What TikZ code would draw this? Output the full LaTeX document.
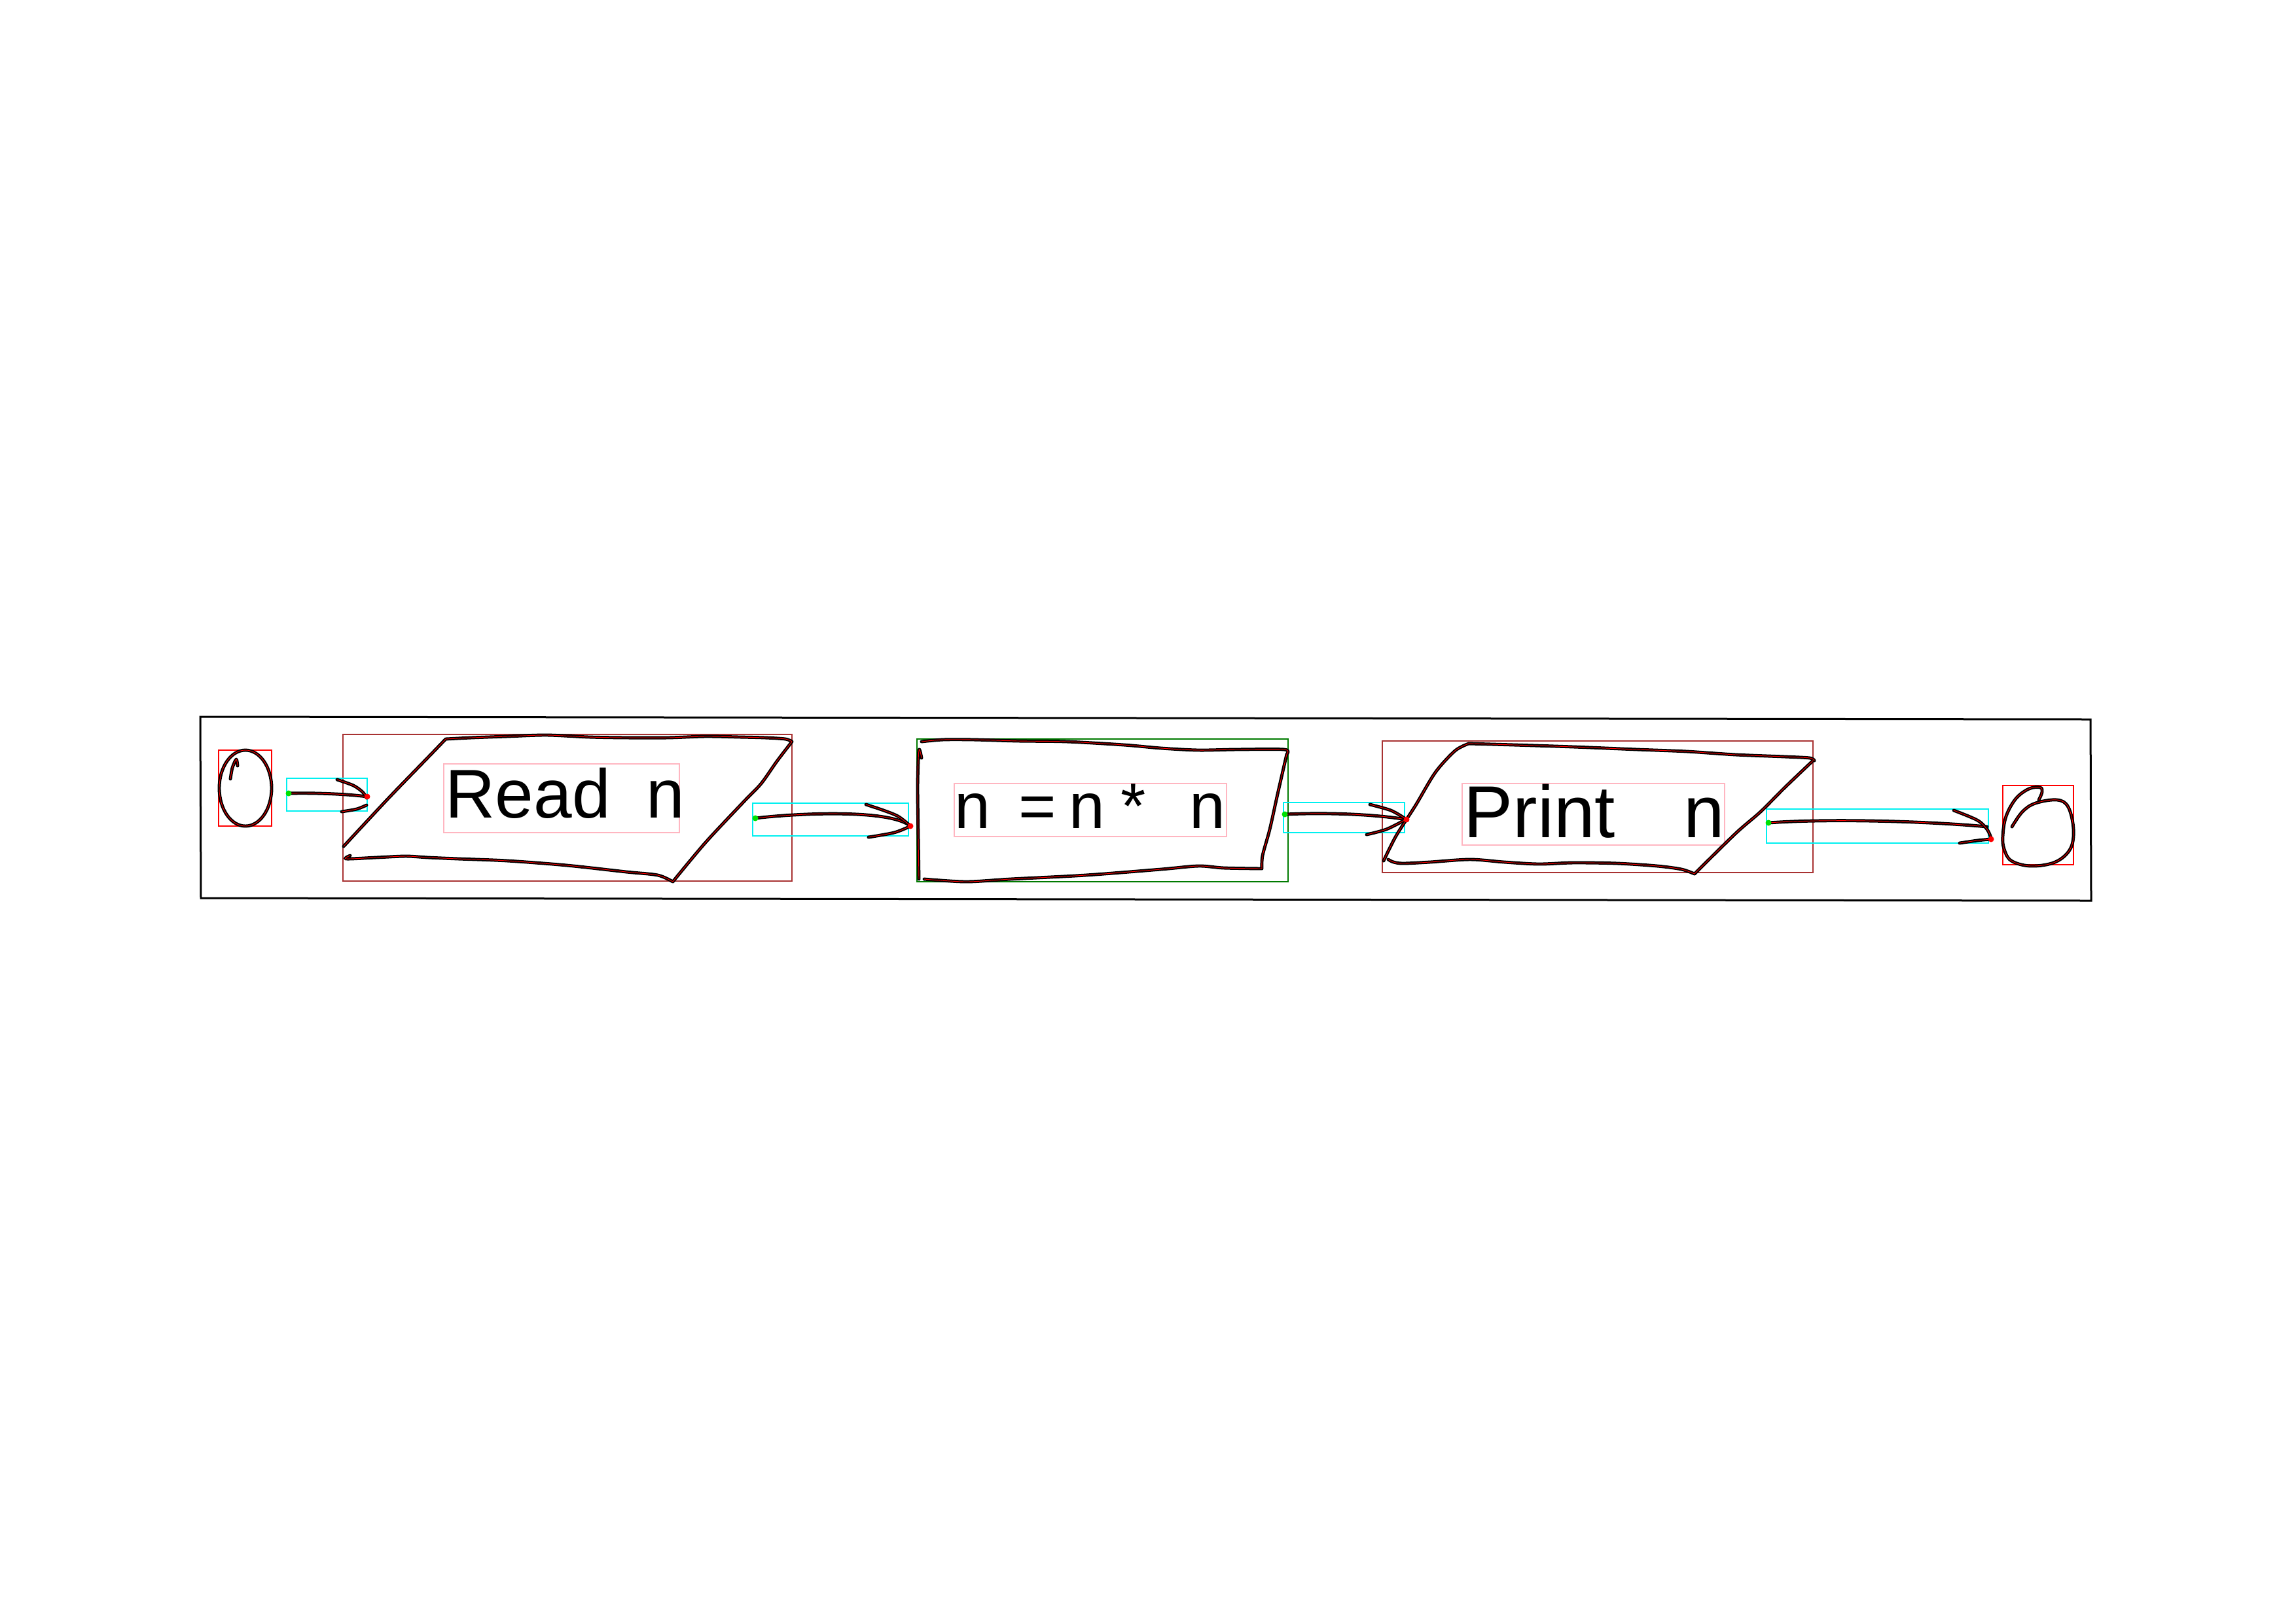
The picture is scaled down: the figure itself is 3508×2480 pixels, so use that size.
\documentclass[tikz,border=0pt]{standalone}
\usepackage{fontspec}
\setmainfont{Liberation Sans}
\usetikzlibrary{fit}
\definecolor{annored}{HTML}{FF0000}
\definecolor{annodark}{HTML}{A83232}
\definecolor{annocyan}{HTML}{00F0F0}
\definecolor{annopink}{HTML}{FFB6C1}
\definecolor{annogreen}{HTML}{007A00}
\definecolor{dotgreen}{HTML}{00E000}
\tikzset{
  hand/.style={draw=black, line width=0.2mm, double=red, double distance=0.09mm, line cap=round, line join=round},
  annobox/.style={draw=#1, line width=0.17mm, inner sep=0pt},
  txtlbl/.style={inner sep=0pt, anchor=base west, text=black},
  startdot/.style={fill=dotgreen, draw=none},
  enddot/.style={fill=annored, draw=none},
  frame/.style={draw=black, line width=0.3mm, line join=miter}
}
\begin{document}
\begin{tikzpicture}[x=0.1mm, y=-0.1mm]
\useasboundingbox[fill=white] (0,0) rectangle (3508,2480);

% outer frame
\draw[frame] (306,1095) -- (3194,1099) -- (3195,1376) -- (307,1372) -- cycle;

% ---------- annotation boxes (nodes) ----------
\node[annobox=annored, fit={(334,1146) (415,1262)}] (start) {};
\node[annobox=annodark, fit={(524,1122) (1210,1346)}] (read) {};
\node[annobox=annogreen, fit={(1401,1129) (1968,1347)}] (proc) {};
\node[annobox=annodark, fit={(2112,1132) (2770,1333)}] (print) {};
\node[annobox=annored, fit={(3060,1200) (3168,1321)}] (stop) {};

\node[annobox=annopink, fit={(678,1167) (1038,1272)}] (readtxt) {};
\node[annobox=annopink, fit={(1458,1197) (1874,1278)}] (proctxt) {};
\node[annobox=annopink, fit={(2234,1197) (2635,1291)}] (printtxt) {};

\node[annobox=annocyan, fit={(438,1189) (561,1239)}] (arr1) {};
\node[annobox=annocyan, fit={(1150,1227) (1388,1277)}] (arr2) {};
\node[annobox=annocyan, fit={(1961,1226) (2146,1272)}] (arr3) {};
\node[annobox=annocyan, fit={(2699,1236) (3038,1288)}] (arr4) {};

% ---------- texts ----------
\node[txtlbl] (readlbl) at (680,1249) {\fontsize{30}{34}\selectfont Read\hspace{5.5mm}n};
\node[txtlbl] (proclbl) at (1458,1265) {\fontsize{28}{32}\selectfont n\hspace{4.3mm}=\hspace{2mm}n\hspace{2.4mm}*\hspace{6.7mm}n};
\node[txtlbl] (printlbl) at (2236,1279) {\fontsize{32}{36}\selectfont Print\hspace{10.5mm}n};

% ---------- start oval ----------
\draw[hand] (375,1204) ellipse [x radius=4mm, y radius=5.8mm];
\draw[hand] plot[smooth] coordinates {(352,1190) (355,1173) (361,1160) (363,1170)};

% ---------- Read n parallelogram ----------
\draw[hand]
  plot[smooth, tension=0.5] coordinates {(681,1129) (720,1127) (775,1125) (835,1123) (900,1126) (957,1127) (1020,1127) (1078,1125) (1130,1126) (1169,1127) (1200,1129) (1210,1133)}
  plot[smooth, tension=0.5] coordinates {(1210,1133) (1187,1163) (1163,1197) (1138,1223) (1078,1287) (1028,1347)}
  plot[smooth, tension=0.5] coordinates {(1028,1347) (1005,1337) (957,1332) (866,1322) (775,1315) (700,1312) (654,1310) (620,1308) (575,1310) (529,1312) (535,1307)}
  plot[smooth, tension=0.5] coordinates {(525,1293) (593,1220) (654,1157) (681,1129)};

% ---------- process rectangle ----------
\draw[hand]
  plot[smooth, tension=0.5] coordinates {(1408,1158) (1404,1146) (1402,1200) (1403,1280) (1404,1343)}
  plot[smooth, tension=0.5] coordinates {(1408,1133) (1441,1130) (1487,1130) (1556,1132) (1630,1133) (1717,1138) (1774,1143) (1831,1146) (1889,1145) (1962,1145) (1966,1152)}
  plot[smooth, tension=0.5] coordinates {(1966,1152) (1952,1213) (1940,1267) (1929,1307) (1928,1327)}
  plot[smooth, tension=0.5] coordinates {(1928,1327) (1870,1326) (1831,1323) (1774,1328) (1659,1337) (1544,1343) (1476,1347) (1412,1343)};

% ---------- Print n parallelogram ----------
\draw[hand]
  plot[smooth, tension=0.5] coordinates {(2244,1136) (2313,1138) (2404,1141) (2501,1145) (2577,1148) (2652,1153) (2727,1156) (2765,1158) (2772,1162)}
  plot[smooth, tension=0.5] coordinates {(2770,1162) (2727,1203) (2690,1240) (2652,1273) (2589,1335)}
  plot[smooth, tension=0.5] coordinates {(2589,1335) (2569,1328) (2532,1323) (2471,1319) (2404,1318) (2351,1320) (2298,1317) (2246,1313) (2185,1317) (2144,1319) (2129,1317) (2121,1313)}
  plot[smooth, tension=0.5] coordinates {(2244,1136) (2223,1147) (2193,1180) (2163,1230) (2133,1277) (2114,1315)};

% ---------- end circle ----------
\draw[hand] plot[smooth, tension=0.6] coordinates {(3074,1263) (3090,1240) (3110,1227) (3143,1222) (3160,1233) (3168,1267) (3163,1297) (3140,1317) (3103,1323) (3073,1315) (3062,1297) (3060,1277) (3065,1247) (3080,1220) (3100,1205) (3117,1203) (3120,1210) (3115,1222)};

% ---------- connectors ----------
\coordinate (a1s) at (441,1212);
\coordinate (a1e) at (561,1217);
\coordinate (a2s) at (1154,1250);
\coordinate (a2e) at (1391,1262);
\coordinate (a3s) at (1963,1244);
\coordinate (a3e) at (2149,1252);
\coordinate (a4s) at (2702,1257);
\coordinate (a4e) at (3042,1282);

% arrow 1
\draw[hand] (a1s) .. controls (480,1211) and (530,1213) .. (a1e);
\draw[hand] plot[smooth] coordinates {(515,1191) (540,1200) (554,1210) (560,1219)};
\draw[hand] plot[smooth] coordinates {(522,1240) (545,1236) (560,1230)};

% arrow 2
\draw[hand] (a2s) .. controls (1220,1242) and (1360,1236) .. (a2e);
\draw[hand] plot[smooth] coordinates {(1323,1229) (1350,1238) (1372,1247) (1389,1260)};
\draw[hand] plot[smooth] coordinates {(1327,1279) (1366,1272) (1389,1263)};

% arrow 3
\draw[hand] (a3s) .. controls (2030,1241) and (2100,1244) .. (a3e);
\draw[hand] plot[smooth] coordinates {(2093,1229) (2125,1238) (2146,1250)};
\draw[hand] plot[smooth] coordinates {(2088,1275) (2118,1267) (2146,1253)};

% arrow 4
\draw[hand] (a4s) .. controls (2800,1250) and (2950,1255) .. (3036,1263);
\draw[hand] plot[smooth] coordinates {(2985,1238) (3021,1253) (3036,1267) (3042,1280)};
\draw[hand] plot[smooth] coordinates {(2994,1288) (3021,1284) (a4e)};

% end-point markers
\foreach \p in {a1s,a2s,a3s,a4s} \fill[startdot] (\p) circle (0.45mm);
\foreach \p in {a1e,a2e,a3e,a4e} \fill[enddot] (\p) circle (0.45mm);
\end{tikzpicture}
\end{document}
